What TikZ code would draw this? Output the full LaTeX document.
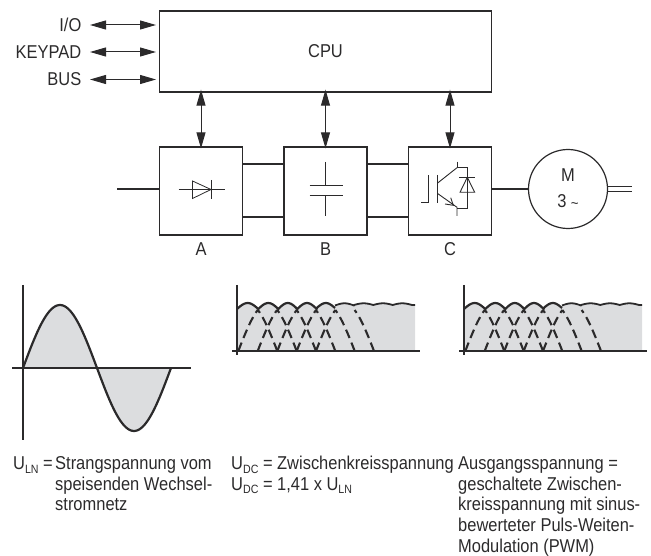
\documentclass[tikz,border=0pt]{standalone}
\usepackage{fontspec}
\setmainfont[FakeStretch=0.885]{Liberation Sans}
\usetikzlibrary{arrows.meta}
\definecolor{ink}{HTML}{2B2A2B}
\definecolor{areagrey}{HTML}{DCDDDF}
\tikzset{
  x=1pt,y=-1pt,
  box/.style={draw=ink,line width=1.3pt,rectangle,inner sep=0pt,font=\fontsize{18.6}{18.6}\selectfont,text=ink},
  wire/.style={draw=ink,line width=1.3pt},
  thin wire/.style={draw=ink,line width=.9pt},
  biarrow/.style={draw=ink,line width=1pt,{Triangle[length=16pt,width=9pt,fill=ink]}-{Triangle[length=16pt,width=9pt,fill=ink]}},
  lbl/.style={font=\fontsize{18.6}{18.6}\selectfont,text=ink,inner sep=0pt},
  note/.style={font=\fontsize{18.6}{20.7}\selectfont,text=ink,inner sep=0pt,align=left,anchor=base west},
  curve/.style={draw=ink,line width=2.2pt,line join=round},
  dashcurve/.style={draw=ink,line width=2.1pt,dash pattern=on 9pt off 5pt},
  axis line/.style={draw=ink,line width=1.2pt}
}
\newcommand{\hump}[4]{% xa xb ypeak yvalley
  -- plot[domain=0:1,samples=13] ({#1+(#2-#1)*\x},{#4-(#4-#3)*sin(180*\x)})}
\newcommand{\rise}[1]{%
  \draw[dashcurve] plot[domain=0:1,samples=12] ({#1+19.4*\x},{351-47.3*sin(60*\x)});}
\newcommand{\fall}[1]{%
  \draw[dashcurve] plot[domain=0:1,samples=12] ({#1-19.4*\x},{351-47.3*sin(60*\x)});}
\newcommand{\usub}[1]{U\raisebox{-3.5pt}{\fontsize{12}{12}\selectfont #1}}
\newcommand{\dcpanel}[1]{%
  \begin{scope}[xshift=#1pt]
    \fill[areagrey] (237,351) \hump{237}{258.3}{303}{309} \hump{258.3}{278.3}{303}{309} \hump{278.3}{297.3}{303}{309}
      \hump{297.3}{316.7}{303}{309} \hump{316.7}{335}{303}{308} \hump{335}{354}{303.3}{305.5} \hump{354}{373.3}{303.3}{305}
      \hump{373.3}{392.7}{303.3}{305} \hump{392.7}{412}{303.3}{305} -- (415,305) -- (415,351) -- cycle;
    \rise{238.3}\rise{257.7}\rise{277.3}\rise{296.7}\rise{316}
    \fall{277.3}\fall{296.7}\fall{316}\fall{335.3}\fall{354.7}\fall{374}
    \draw[curve] (237,309) \hump{237}{258.3}{303}{309} \hump{258.3}{278.3}{303}{309} \hump{278.3}{297.3}{303}{309}
      \hump{297.3}{316.7}{303}{309} \hump{316.7}{335}{303}{308};
    \draw[line width=1.8pt,draw=ink,line join=round] (335,305.5) \hump{335}{354}{303.3}{305.5} \hump{354}{373.3}{303.3}{305} \hump{373.3}{392.7}{303.3}{305} \hump{392.7}{412}{303.3}{305} -- (415,305);
    \draw[axis line] (237,285) -- (237,355);
    \draw[axis line] (232,351) -- (420,351);
  \end{scope}}
\begin{document}
\begin{tikzpicture}
\useasboundingbox (0,0) rectangle (651,556);
% CPU and converter stages
\node[box,minimum width=332pt,minimum height=81pt] (cpu) at (325.5,51.5) {CPU};
\node[box,minimum width=83pt,minimum height=88pt] (A) at (201,191) {};
\node[box,minimum width=83pt,minimum height=88pt] (B) at (325.5,191) {};
\node[box,minimum width=83pt,minimum height=88pt] (C) at (450,191) {};
\node[draw=ink,line width=1.2pt,circle,minimum size=79pt,inner sep=0pt] (M) at (568,189) {};
\node[lbl] (mlabel) at (568,175) {M};
\node[lbl] (mphase) at (568,201.7) {3 \raisebox{-1pt}{\fontsize{15}{15}\selectfont\char"007E}};
\node[lbl,anchor=base] (la) at (201,256) {A};
\node[lbl,anchor=base] (lb) at (325.5,256) {B};
\node[lbl,anchor=base] (lc) at (450,256) {C};
% side labels
\node[lbl,anchor=base east] (io) at (81.5,32) {I/O};
\node[lbl,anchor=base east] (kp) at (81.5,59) {KEYPAD};
\node[lbl,anchor=base east] (bus) at (81.5,86) {BUS};
\coordinate (ioa) at (90,25); \coordinate (kpa) at (90,52); \coordinate (busa) at (90,79.5);
\coordinate (iob) at (156,25); \coordinate (kpb) at (156,52); \coordinate (busb) at (156,79.5);
\draw[biarrow] (ioa) -- (iob);
\draw[biarrow] (kpa) -- (kpb);
\draw[biarrow] (busa) -- (busb);
\draw[biarrow] ([yshift=3pt]A.north |- cpu.south) -- ([yshift=-2pt]A.north);
\draw[biarrow] ([yshift=3pt]B.north |- cpu.south) -- ([yshift=-2pt]B.north);
\draw[biarrow] ([yshift=3pt]C.north |- cpu.south) -- ([yshift=-2pt]C.north);
% power wiring
\coordinate (in) at (117,189);
\draw[wire] (in) -- (in -| A.west);
\draw[wire] (242.5,164) -- (284,164);
\draw[wire] (242.5,217) -- (284,217);
\draw[wire] (367,164) -- (408.5,164);
\draw[wire] (367,217) -- (408.5,217);
\draw[wire] (C.east |- M.west) -- (M.west);
\draw[thin wire] (M.east) ++(0,-3) -- ++(24,0);
\draw[thin wire] (M.east) ++(0,2.5) -- ++(24,0);
% diode
\draw[thin wire,line width=.8pt] (178.5,189.5) -- (225,189.5);
\draw[thin wire,line width=.8pt] (192.5,181) -- (192.5,198.5) -- (211,189.5) -- cycle;
\draw[thin wire] (211.5,180) -- (211.5,199);
% capacitor
\draw[thin wire] (325.5,162) -- (325.5,185.5);
\draw[thin wire] (325.5,195.5) -- (325.5,216);
\draw[thin wire] (309.5,185.5) -- (343,185.5);
\draw[thin wire] (309.5,195.5) -- (343,195.5);
% IGBT with freewheeling diode
\draw[thin wire] (421,202.7) -- (428.7,202.7) -- (428.7,175);
\draw[thin wire,line width=1.2pt] (437.3,175) -- (437.3,202.7);
\draw[thin wire] (437.3,183.3) -- (457,167.7);
\draw[thin wire] (457,161.7) -- (457,167.7);
\draw[thin wire] (437.3,193.3) -- (457,207.3) -- (457,216);
\draw[thin wire] (445,204) -- (453.3,205.3) -- (450.7,197.7);
\draw[thin wire] (457,167.7) -- (467.3,167.7) -- (467.3,208.3) -- (457,208.3);
\draw[thin wire] (459.3,177.3) -- (475.3,177.3);
\draw[thin wire] (467.3,177.3) -- (460,192.3) -- (474.7,192.3) -- cycle;
% sine panel
\fill[areagrey] plot[domain=23:97,samples=40] (\x,{368-63*sin((\x-23)/74*180)}) -- cycle;
\fill[areagrey] plot[domain=97:171,samples=40] (\x,{368-63*sin((\x-23)/74*180)}) -- cycle;
\draw[axis line] (23,285) -- (23,440);
\draw[axis line] (12,368) -- (191,368);
\draw[curve] plot[domain=23:171,samples=80] (\x,{368-63*sin((\x-23)/74*180)});
% DC panels
\dcpanel{0}
\dcpanel{227}
% captions
\node[note] (t1) at (13,469.5) {\usub{LN} =};
\node[note] (t1b) at (55,510.9) {Strangspannung vom\\speisenden Wechsel-\\stromnetz};
\node[note] (t2) at (231,490.2) {\usub{DC} = Zwischenkreisspannung\\\usub{DC} = 1,41 x \usub{LN}};
\node[note] (t3) at (458,552.3) {Ausgangsspannung =\\geschaltete Zwischen-\\kreisspannung mit sinus-\\bewerteter Puls-Weiten-\\Modulation (PWM)};
\end{tikzpicture}
\end{document}
